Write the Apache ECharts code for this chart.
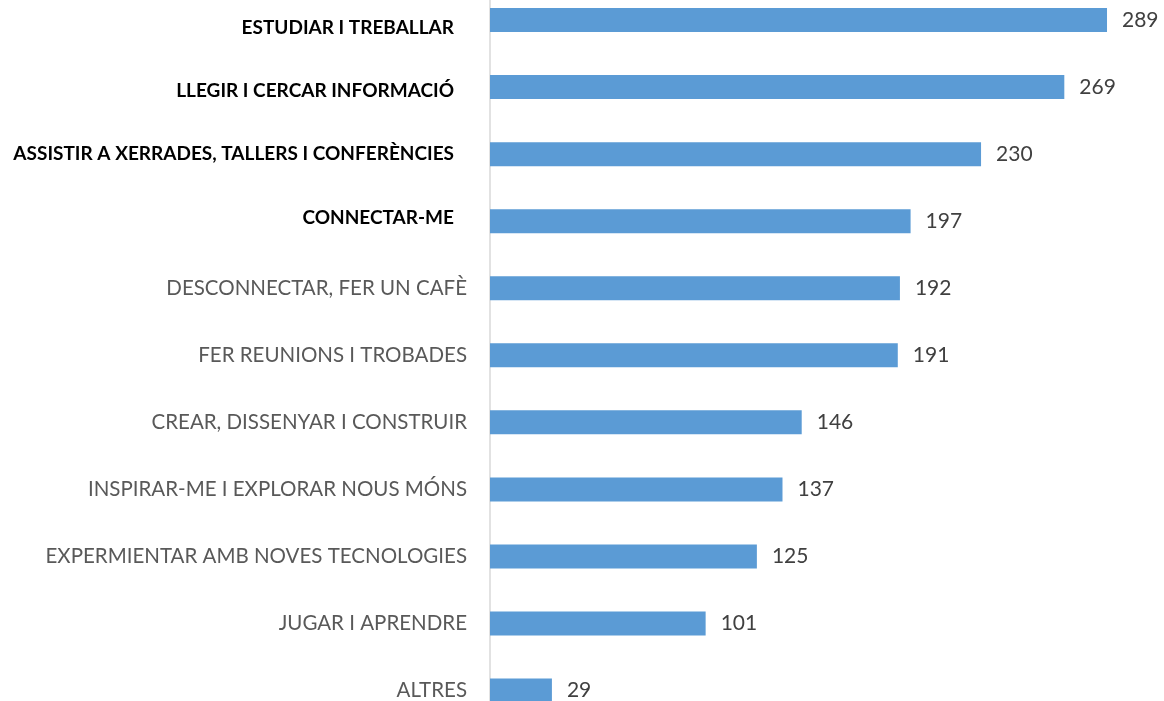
<!DOCTYPE html>
<html lang="ca">
<head>
    <meta charset="utf-8">
    <title>Activitats</title>
    <script src="https://cdn.jsdelivr.net/npm/echarts@6/dist/echarts.min.js"></script>
    <style>
        html, body { margin: 0; padding: 0; background: #fff; }
    </style>
</head>
<body>
<div id="main" style="width: 1164px;height:701px;"></div>

<script type="text/javascript">
    var categories = [
        'ESTUDIAR I TREBALLAR',
        'LLEGIR I CERCAR INFORMACIÓ',
        'ASSISTIR A XERRADES, TALLERS I CONFERÈNCIES',
        'CONNECTAR-ME',
        'DESCONNECTAR, FER UN CAFÈ',
        'FER REUNIONS I TROBADES',
        'CREAR, DISSENYAR I CONSTRUIR',
        'INSPIRAR-ME I EXPLORAR NOUS MÓNS',
        'EXPERMIENTAR AMB NOVES TECNOLOGIES',
        'JUGAR I APRENDRE',
        'ALTRES'
    ];
    var values = [289, 269, 230, 197, 192, 191, 146, 137, 125, 101, 29];
    // the first four labels are bold in the original
    var boldCount = 4;

    var myChart = echarts.init(document.getElementById('main'));

    var boldStyle = {color: '#000', fontSize: 19, fontWeight: 'bold', fontFamily: 'Lato'};

    var option = {
        animation: false,
        grid: {
            left: 490,
            right: 33.5,
            top: -13.5,
            height: 737.6,
            outerBoundsMode: 'none',
            containLabel: false
        },
        xAxis: {
            type: 'value',
            min: 0,
            max: 300,
            show: false
        },
        yAxis: {
            type: 'category',
            inverse: true,
            data: categories,
            axisLine: {show: true, lineStyle: {color: '#d9d9d9', width: 1.5}},
            axisTick: {show: false},
            axisLabel: {
                margin: 23,
                formatter: function (value, idx) {
                    if (idx < boldCount) {
                        return '{b' + idx + '|' + value + '}';
                    }
                    return '{n|' + value + '}';
                },
                rich: {
                    n: {color: '#595959', fontSize: 20.5, fontFamily: 'Lato'},
                    b0: Object.assign({padding: [16, 13, 0, 0]}, boldStyle),
                    b1: Object.assign({padding: [8, 13, 0, 0]}, boldStyle),
                    b2: Object.assign({padding: [0, 13, 0, 0]}, boldStyle),
                    b3: Object.assign({padding: [0, 13, 6, 0]}, boldStyle)
                }
            }
        },
        series: [{
            type: 'bar',
            data: values,
            barWidth: 24,
            itemStyle: {color: '#5b9bd5'},
            label: {
                show: true,
                position: 'right',
                distance: 15,
                color: '#404040',
                fontSize: 21,
                fontFamily: 'Lato'
            }
        }]
    };

    myChart.setOption(option);
</script>

</body>
</html>
